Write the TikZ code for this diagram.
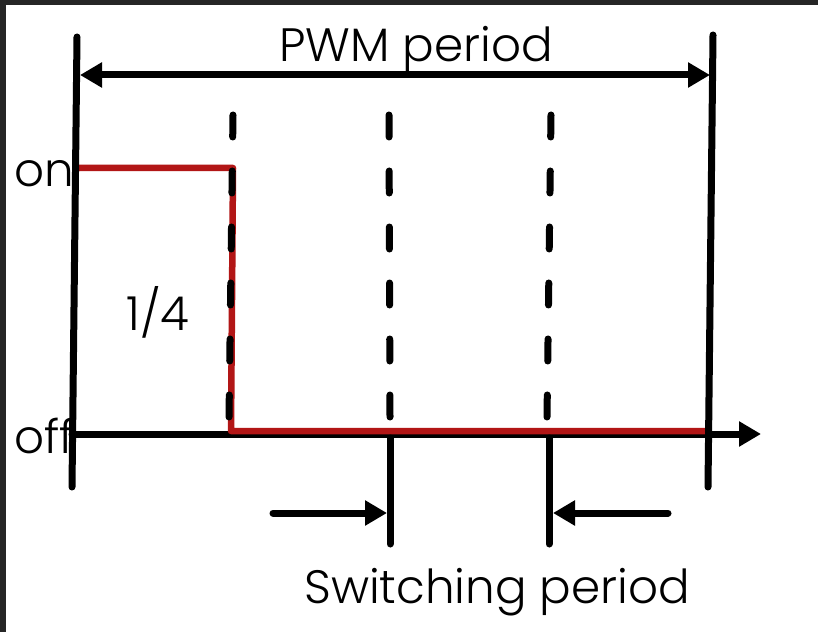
\documentclass[tikz,border=0pt]{standalone}
\usepackage{fontspec}
\setmainfont{Poppins}[UprightFont=* Light]
\usepackage{tikz}
\usetikzlibrary{arrows.meta}
\usepackage{xcolor}
\definecolor{pwmred}{RGB}{178,22,22}
\definecolor{frame}{RGB}{38,38,38}

\begin{document}
\begin{tikzpicture}[x=1bp,y=-1bp,line width=7bp,line cap=round,line join=round,
  lbl/.style={font=\fontsize{47}{47}\selectfont,inner sep=0pt},
  tri/.style={-{Triangle[length=22bp,width=24bp]}}]
\useasboundingbox (0,0) rectangle (818,632);
\fill[frame] (0,0) rectangle (818,632);
\fill[white] (6,5) rectangle (818,632);
\coordinate (a0) at (77,37);  \coordinate (a1) at (72,487);
\coordinate (b0) at (713,35); \coordinate (b1) at (708,487);
\coordinate (p0) at (80,75);  \coordinate (p1) at (710,75);
\coordinate (o0) at (72,434); \coordinate (o1) at (761,434);
\coordinate (r0) at (78,168); \coordinate (r1) at (233,168);
\coordinate (r2) at (231,431); \coordinate (r3) at (708,431);
\draw[tri] (o0)--(o1);
\draw[pwmred,line width=6.5bp] (r0)--(r1)--(r2)--(r3);
\foreach \xt/\xb/\n in {233/229/1,389/390/2,551/547/3}{
  \coordinate (d\n) at (\xt,115); \coordinate (e\n) at (\xb,417);
  \draw[dash pattern=on 22bp off 34bp] (d\n)--(e\n);}
\foreach \x/\n in {390/1,549/2}{
  \coordinate (s\n) at (\x,438); \coordinate (t\n) at (\x,544);
  \draw (s\n)--(t\n);}
\draw (a0)--(a1);
\draw (b0)--(b1);
\draw[{Triangle[length=22bp,width=24bp]}-{Triangle[length=22bp,width=24bp]}] (p0)--(p1);
\coordinate (w0) at (273,513); \coordinate (w1) at (387,513);
\coordinate (w2) at (668,513); \coordinate (w3) at (553,513);
\draw[tri] (w0)--(w1);
\draw[tri] (w2)--(w3);
\node[lbl,anchor=base] (pwm) at (416,62) {PWM period};
\node[lbl,anchor=base] (sw) at (497,603) {Switching period};
\node[lbl,anchor=base west] (on) at (11,187) {on};
\node[lbl,anchor=base west] (off) at (11,453) {off};
\node[lbl,anchor=base] (quarter) at (158,330) {1/4};
\end{tikzpicture}
\end{document}
